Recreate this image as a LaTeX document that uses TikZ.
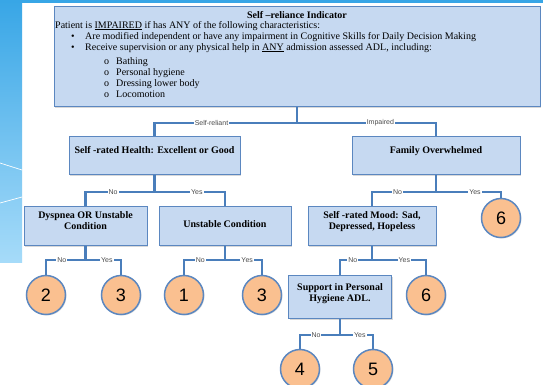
\documentclass[tikz,border=0pt]{standalone}
\usepackage{fontspec}
\setmainfont{Liberation Serif}
\setsansfont{Liberation Sans}
\usepackage{tikz}
\usetikzlibrary{shadows}

\definecolor{boxfill}{HTML}{C6D9F1}
\definecolor{boxline}{HTML}{5B87C0}
\definecolor{linkblue}{HTML}{4A7EBB}
\definecolor{scorefill}{HTML}{FAC090}
\definecolor{slidetop}{HTML}{38A6E6}
\definecolor{slidemid}{HTML}{6BC2F2}
\definecolor{slidelow}{HTML}{A6DBF9}

\newcommand{\twoline}[2]{\begin{tabular}[t]{@{}c@{}}#1\\#2\end{tabular}}

\begin{document}
\begin{tikzpicture}[x=1pt, y=-1pt,
    qbox/.style={draw=boxline, line width=1pt, fill=boxfill, inner sep=0pt, anchor=north,
        drop shadow={opacity=0.3, shadow xshift=1.3pt, shadow yshift=-1.3pt},
        font=\fontsize{10}{11}\selectfont\bfseries},
    score/.style={circle, draw=boxline, line width=1.5pt, fill=scorefill, minimum size=39pt, inner sep=0pt,
        drop shadow={opacity=0.25, shadow xshift=1pt, shadow yshift=-1pt},
        font=\sffamily\fontsize{18}{18}\selectfont},
    conn/.style={draw=linkblue, line width=2.8pt},
    ans/.style={fill=white, inner sep=1pt, text=black!70, font=\sffamily\fontsize{7}{7}\selectfont},
    itemtxt/.style={anchor=base west, inner sep=0pt, font=\fontsize{10}{11}\selectfont}]
    \useasboundingbox (0,0) rectangle (543,384);
    \fill[white] (0,0) rectangle (543,384);
    % slide background at the left and top
    \shade[top color=slidetop, middle color=slidemid, bottom color=slidelow] (0,0) rectangle (22,262);
    \fill[slidetop] (0,0) rectangle (543,3);
    \draw[white, line width=0.7pt] (0,163) -- (22,170);
    \draw[white, line width=0.7pt] (0,203) -- (22,197);

    % indicator box
    \node[qbox, minimum width=486pt, minimum height=100pt] (ind) at (297,6) {};
    \node[anchor=base, inner sep=0pt, font=\fontsize{10}{11}\selectfont\bfseries] (title) at (297,18) {Self –reliance Indicator};
    \node[itemtxt] (rule) at (55,28) {Patient is \underline{IMPAIRED} if has ANY of the following characteristics:};
    \node[itemtxt] (dot1) at (71,39) {•};
    \node[itemtxt] (item1) at (85,39) {Are modified independent or have any impairment in Cognitive Skills for Daily Decision Making};
    \node[itemtxt] (dot2) at (71,50) {•};
    \node[itemtxt] (item2) at (85,50) {Receive supervision or any physical help in \underline{ANY} admission assessed ADL, including:};
    \node[itemtxt] (sub1) at (104,64) {o\hspace{7pt}Bathing};
    \node[itemtxt] (sub2) at (104,75) {o\hspace{7pt}Personal hygiene};
    \node[itemtxt] (sub3) at (104,86) {o\hspace{7pt}Dressing lower body};
    \node[itemtxt] (sub4) at (104,97) {o\hspace{7pt}Locomotion};

    % question boxes
    \node[qbox, minimum width=171pt, text height=17pt, text depth=21pt] (health) at (154.5,136) {Self -rated Health: Excellent or Good};
    \node[qbox, minimum width=168pt, text height=17pt, text depth=21pt] (family) at (436,136) {Family Overwhelmed};
    \node[qbox, minimum width=123pt, text height=12pt, text depth=27pt] (dysp) at (85.5,206) {\twoline{Dyspnea OR Unstable}{Condition}};
    \node[qbox, minimum width=132pt, text height=21pt, text depth=18pt] (unst) at (225,206) {Unstable Condition};
    \node[qbox, minimum width=128pt, text height=12pt, text depth=27pt] (mood) at (372,206) {\twoline{Self -rated Mood: Sad,}{Depressed, Hopeless}};
    \node[qbox, minimum width=103pt, text height=15pt, text depth=28pt] (supp) at (340,275) {\twoline{Support in Personal}{Hygiene ADL.}};

    % scores
    \node[score] (s2) at (46,295) {2};
    \node[score] (s3a) at (121,295) {3};
    \node[score] (s1) at (184,295) {1};
    \node[score] (s3b) at (262,295) {3};
    \node[score] (s6a) at (501,218) {6};
    \node[score] (s6b) at (426,295) {6};
    \node[score] (s4) at (300,369) {4};
    \node[score] (s5) at (373,369) {5};

    % connectors
    \draw[conn] (ind.south) -- ++(0,16) -| node[ans, pos=0.3] {Self-reliant} (health.north);
    \draw[conn] (ind.south) -- ++(0,16) -| node[ans, pos=0.3] {Impaired} (family.north);
    \draw[conn] (health.south) -- ++(0,17) -| node[ans, pos=0.3] {No} (dysp.north);
    \draw[conn] (health.south) -- ++(0,17) -| node[ans, pos=0.3] {Yes} (unst.north);
    \draw[conn] (family.south) -- ++(0,17) -| node[ans, pos=0.3] {No} (mood.north);
    \draw[conn] (family.south) -- ++(0,17) -| node[ans, pos=0.3] {Yes} (s6a.north);
    \draw[conn] (dysp.south) -- ++(0,14) -| node[ans, pos=0.3] {No} (s2.north);
    \draw[conn] (dysp.south) -- ++(0,14) -| node[ans, pos=0.3] {Yes} (s3a.north);
    \draw[conn] (unst.south) -- ++(0,14) -| node[ans, pos=0.3] {No} (s1.north);
    \draw[conn] (unst.south) -- ++(0,14) -| node[ans, pos=0.3] {Yes} (s3b.north);
    \draw[conn] (mood.south) -- ++(0,14) -| node[ans, pos=0.3] {No} (supp.north);
    \draw[conn] (mood.south) -- ++(0,14) -| node[ans, pos=0.3] {Yes} (s6b.north);
    \draw[conn] (supp.south) -- ++(0,16) -| node[ans, pos=0.3] {No} (s4.north);
    \draw[conn] (supp.south) -- ++(0,16) -| node[ans, pos=0.3] {Yes} (s5.north);
\end{tikzpicture}
\end{document}
